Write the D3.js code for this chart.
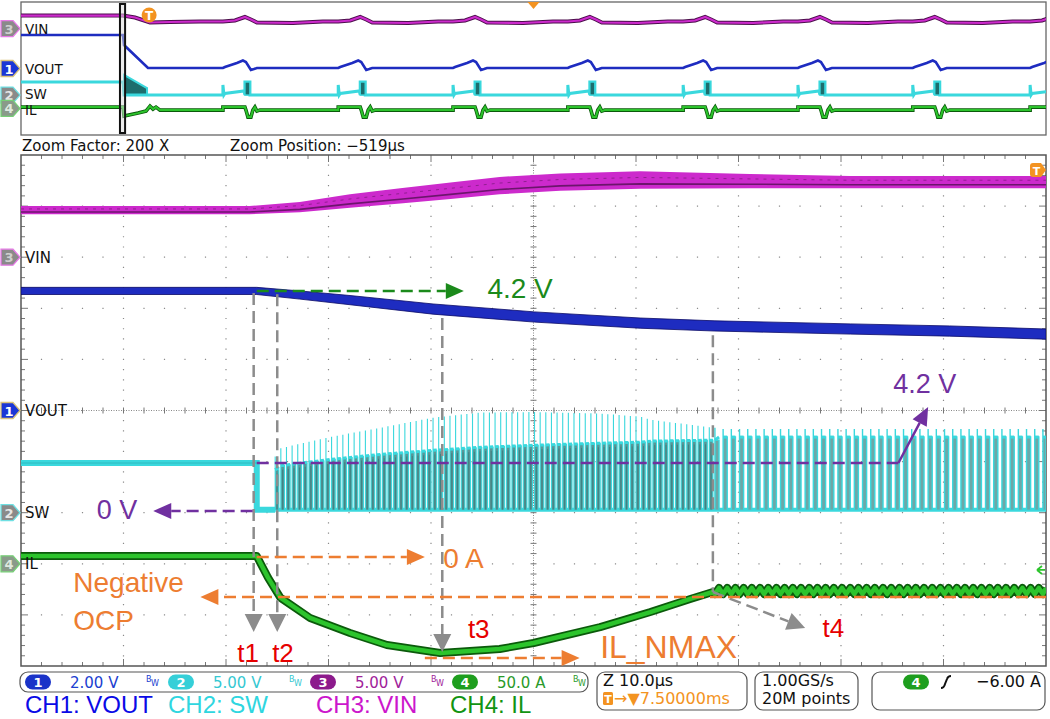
<!DOCTYPE html>
<html><head><meta charset="utf-8">
<script src="https://cdn.jsdelivr.net/npm/d3@7"></script>
<style>body{margin:0;background:#fff}svg{display:block}</style>
</head><body>
<svg id="c" width="1050" height="719"></svg>
<script>
// ================= DATA =================
const channelNames  = ['VIN', 'VOUT', 'SW', 'IL'];
const channelNums   = ['3', '1', '2', '4'];
const channelPerDiv = [5, 2, 5, 50];     // V/div, V/div, V/div, A/div
const channelOffset = [3, 0, -2, -3];    // marker position (div from centre)

// ---- zoom window (10 µs/div), time in µs from left edge ----
const vinT     = [0, 22.3, 27.2, 32.1, 37.0, 41.9, 46.7, 52.6, 60.4, 71.1, 80.9, 100];
const vinV     = [4.6, 4.6, 4.9, 5.5, 6.0, 6.5, 7.0, 7.35, 7.55, 7.45, 7.35, 7.35];
const vinNoise = [0.8, 0.8, 1.0, 1.3, 1.5, 1.6, 1.7, 1.7, 1.7, 1.4, 1.2, 1.2];

const voutT     = [0, 23.0, 27.2, 32.1, 40.2, 50.1, 60.4, 67.7, 80.9, 90.6, 100];
const voutV     = [4.68, 4.68, 4.52, 4.32, 3.97, 3.66, 3.42, 3.31, 3.19, 3.11, 2.99];
const voutNoise = [0.28, 0.28, 0.32, 0.36, 0.40, 0.40, 0.40, 0.40, 0.40, 0.40, 0.40];

const swPreT = [0, 23.0, 23.0, 24.8];
const swPreV = [4.86, 4.86, 0.3, 0.3];
const swEnvT     = [24.8, 25.3, 30.1, 35.0, 40.2, 44.8, 50.1, 56.5, 60.4, 61.4, 67.7, 67.8, 100];
const swPlateau  = [4.2, 4.6, 5.2, 5.7, 6.1, 6.4, 6.6, 6.8, 6.9, 7.0, 7.1, 7.4, 7.4];
const swPeak     = [5.5, 6.3, 7.4, 8.3, 9.3, 9.8, 9.85, 9.7, 9.4, 9.1, 8.3, 8.2, 8.2];
const swLow = 0.3;
const swPhases = [
  {from: 24.8, to: 67.7, period: 0.55, duty: 0.65},
  {from: 67.7, to: 100,  period: 0.80, duty: 0.5}
];

const ilT = [0, 23.0, 24.1, 25.3, 28.2, 32.1, 35.7, 40.9, 46.7, 50.0, 56.5, 61.4, 65.3, 67.5];
const ilA = [7.6, 7.6, -13.5, -33.1, -53.0, -67.7, -79.5, -87.3, -83.4, -77.5, -61.9, -47.2, -34.4, -27.6];
const ilRippleLevel = -26.6, ilRipplePkPk = 6;
const ilTrigLevel = -6.0;

// ---- overview record (2 ms/div), time in ms relative to trigger ----
const ovZoomWin = [-0.569, -0.469];
const ovBurstStarts = [1.44, 3.69, 5.93, 8.17, 10.42, 12.66, 14.90, 17.19];

const ovVinT = [-2.5, -0.51, -0.276, 0.017, 0.407, 0.993];
const ovVinV = [4.9, 4.9, 4.17, 2.29, 2.48, 2.67];
const ovVinBurstDt = [0, 0.234, 0.429, 0.546, 0.663, 1.366, 1.95];
const ovVinBurstV  = [2.67, 3.05, 4.36, 3.42, 2.29, 2.11, 2.67];

const ovVoutT = [-2.5, -0.51, -0.49, -0.022];
const ovVoutV = [5.04, 5.04, 3.53, 0.08];
const ovVoutBurstDt = [0, 0.039, 0.273, 0.39, 0.449, 0.546, 0.605, 0.663];
const ovVoutBurstV  = [0.08, 0.23, 0.83, 1.2, 0.98, -0.23, -0.08, 0.08];

const ovSwT = [-2.5, -0.51, -0.49];
const ovSwV = [4.93, 4.93, 0.04];
const ovSwBurstFillT   = [-0.49, -0.041];
const ovSwBurstFillTop = [7.56, 2.6];
const ovSwBurstDt = [0, 0, 0.02, 0.039, 0.41, 0.429, 0.429, 0.527, 0.527, 0.6];
const ovSwBurstV  = [0.04, 3.8, 0.04, 0.6, 1.54, 0.04, 4.93, 4.93, 0.04, 0.04];
const ovSwPulse = [0.429, 0.527, 4.93];

const ovIlT = [-2.5, -0.51, -0.49, -0.217, -0.061, 0.017, 0.076, 0.134, 0.212];
const ovIlA = [4.9, 4.9, -29, -17.7, -10, 8.6, -2.6, 4.9, -6.4];
const ovIlBurstDt = [0, 0, 0.429, 0.449, 0.488, 0.546, 0.585, 0.624, 0.663, 0.722];
const ovIlBurstA  = [-6.4, 4.9, 4.9, -6.4, -32.7, -32.7, -6.4, 4.9, -10.2, -6.4];

// ---- status bar texts ----
const scaleLabels  = ['2.00 V', '5.00 V', '5.00 V', '50.0 A'];
const legendLabels = ['CH1: VOUT', 'CH2: SW', 'CH3: VIN', 'CH4: IL'];
const zoomTexts = ['Zoom Factor: 200 X', 'Zoom Position: \u2212519\u00b5s'];
const timebaseTexts = ['Z 10.0\u00b5s', '\u2192\u25bc7.50000ms'];
const acqTexts = ['1.00GS/s', '20M points'];
const trigTexts = ['4', '\u22126.00 A'];

// ================= LAYOUT =================
const X0 = 21, X1 = 1046, Y0 = 155, Y1 = 666, OY0 = 2, OY1 = 135;
const FONT = "'DejaVu Sans', sans-serif", AFONT = "'Liberation Sans', Arial, sans-serif";
const COL = {
  vin: '#cc2acc', vinDark: '#4c0f4c', vout: '#1e2cc0', voutDark: '#0a0a66',
  sw: '#3ad8dd', swFill: '#6ea7a7', swDense: '#5a9696', swDark: '#1d6d6d', il: '#2cc42c', ilDark: '#0b5a0b',
  green: '#1b8a1b', purple: '#7030a0', orange: '#ed7d31', red: '#e60000', gray: '#8c8c8c', trig: '#f39321'
};

const svg = d3.select('#c');
const x  = d3.scaleLinear().domain([0, 100]).range([X0, X1]);
const yDiv = d3.scaleLinear().domain([5, -5]).range([Y0, Y1]);
const ox = d3.scaleLinear().domain([-2.5, 17.5]).range([X0, X1]);
const oyDiv = d3.scaleLinear().domain([5, -5]).range([OY0, OY1]);
const yM = (ci, v) => yDiv(channelOffset[ci] + v / channelPerDiv[ci]);
const yO = (ci, v) => oyDiv(channelOffset[ci] + v / channelPerDiv[ci]);
const zip = (a, b) => a.map((t, i) => [t, b[i]]);

const defs = svg.append('defs');
defs.append('clipPath').attr('id', 'cm').append('rect').attr('x', X0).attr('y', Y0).attr('width', X1 - X0).attr('height', Y1 - Y0);
defs.append('clipPath').attr('id', 'co').append('rect').attr('x', X0).attr('y', OY0).attr('width', X1 - X0).attr('height', OY1 - OY0);

// ================= GRID (main) =================
const gGrid = svg.append('g');
let dots = '';
const dx = (X1 - X0) / 10, dy = (Y1 - Y0) / 10;
for (let i = 1; i < 10; i++) {
  if (i === 5) continue;
  const gx = X0 + i * dx;
  for (let k = 1; k < 50; k++) { const yy = Y0 + k * dy / 5; dots += `M${gx - 0.6},${yy - 0.6}h1.2v1.2h-1.2Z`; }
  const gy = Y0 + i * dy;
  for (let k = 1; k < 50; k++) { const xx = X0 + k * dx / 5; dots += `M${xx - 0.6},${gy - 0.6}h1.2v1.2h-1.2Z`; }
}
gGrid.append('path').attr('d', dots).attr('fill', '#8a8a8a');
const cx = X0 + 5 * dx, cy = Y0 + 5 * dy;
gGrid.append('line').attr('x1', X0).attr('x2', X1).attr('y1', cy).attr('y2', cy).attr('stroke', '#888').attr('stroke-width', 1).attr('stroke-dasharray', '1,1.5');
gGrid.append('line').attr('x1', cx).attr('x2', cx).attr('y1', Y0).attr('y2', Y1).attr('stroke', '#888').attr('stroke-width', 1).attr('stroke-dasharray', '1,1.5');
let ticks = '';
for (let k = 1; k < 50; k++) {
  const xx = X0 + k * dx / 5, len = (k % 5 === 0) ? 7 : 4;
  ticks += `M${xx},${Y0}v${len}M${xx},${Y1}v${-len}M${xx},${cy - 3}v6`;
  const yy = Y0 + k * dy / 5;
  ticks += `M${X0},${yy}h${len}M${X1},${yy}h${-len}M${cx - 3},${yy}h6`;
}
gGrid.append('path').attr('d', ticks).attr('stroke', '#777').attr('stroke-width', 1);
gGrid.append('rect').attr('x', X0).attr('y', Y0).attr('width', X1 - X0).attr('height', Y1 - Y0)
  .attr('fill', 'none').attr('stroke', '#555').attr('stroke-width', 1.5);

svg.append('rect').attr('x', X0).attr('y', OY0).attr('width', X1 - X0).attr('height', OY1 - OY0)
  .attr('fill', 'none').attr('stroke', '#666').attr('stroke-width', 1.3);

svg.append('text').attr('x', 22).attr('y', 151).attr('font-family', FONT).attr('font-size', 15).attr('fill', '#111').text(zoomTexts[0]);
svg.append('text').attr('x', 230).attr('y', 151).attr('font-family', FONT).attr('font-size', 15).attr('fill', '#111').text(zoomTexts[1]);

// ================= MAIN TRACES =================
const gM = svg.append('g').attr('clip-path', 'url(#cm)');
const lineM = (ci) => d3.line().x(d => x(d[0])).y(d => yM(ci, d[1]));

const vinPts = vinT.map((t, i) => ({t, v: vinV[i], n: vinNoise[i]}));
gM.append('path').datum(vinPts).attr('fill', COL.vin)
  .attr('d', d3.area().x(d => x(d.t)).y0(d => yM(0, d.v - d.n / 2)).y1(d => yM(0, d.v + d.n / 2)));
gM.append('path').datum(vinPts).attr('fill', 'none').attr('stroke', COL.vinDark).attr('stroke-width', 1.6).attr('opacity', 0.75)
  .attr('d', d3.line().x(d => x(d.t)).y(d => yM(0, d.v - d.n * 0.22)));
gM.append('path').datum(vinPts).attr('fill', 'none').attr('stroke', COL.vinDark).attr('stroke-width', 1).attr('opacity', 0.45)
  .attr('stroke-dasharray', '3,5').attr('d', d3.line().x(d => x(d.t)).y(d => yM(0, d.v + d.n * 0.15)));

const voutPts = voutT.map((t, i) => ({t, v: voutV[i], n: voutNoise[i]}));
gM.append('path').datum(voutPts).attr('fill', COL.vout).attr('stroke', COL.voutDark).attr('stroke-width', 0.8)
  .attr('d', d3.area().x(d => x(d.t)).y0(d => yM(1, d.v - d.n / 2)).y1(d => yM(1, d.v + d.n / 2)));

// SW
gM.append('path').datum(zip(swPreT, swPreV)).attr('fill', 'none').attr('stroke', COL.sw).attr('stroke-width', 6).attr('d', lineM(2));
gM.append('path').datum(zip(swPreT, swPreV).slice(0, 2)).attr('fill', 'none').attr('stroke', '#2aa9ad').attr('stroke-width', 1).attr('opacity', 0.6).attr('d', lineM(2));
const plateauAt = d3.scaleLinear().domain(swEnvT).range(swPlateau).clamp(true);
const peakAt = d3.scaleLinear().domain(swEnvT).range(swPeak).clamp(true);
const swPulses = [];
swPhases.forEach(p => {
  for (let t = p.from; t + 1e-9 < p.to; t += p.period)
    swPulses.push({tr: t, tf: Math.min(t + p.period * p.duty, p.to), dense: p.period < 0.7});
});
gM.append('line').attr('x1', x(swEnvT[0])).attr('x2', x(100)).attr('y1', yM(2, swLow)).attr('y2', yM(2, swLow))
  .attr('stroke', COL.sw).attr('stroke-width', 4);
gM.append('g').selectAll('rect').data(swPulses).join('rect')
  .attr('x', d => x(d.tr)).attr('width', d => x(d.tf) - x(d.tr))
  .attr('y', d => yM(2, plateauAt(d.tr))).attr('height', d => yM(2, swLow) - yM(2, plateauAt(d.tr)))
  .attr('fill', d => d.dense ? COL.swDense : COL.swFill);
gM.append('g').selectAll('path').data(swPulses).join('path')
  .attr('fill', 'none').attr('stroke', COL.sw).attr('stroke-width', d => d.dense ? 1.1 : 1.4)
  .attr('d', d => `M${x(d.tr)},${yM(2, swLow)}V${yM(2, peakAt(d.tr))}M${x(d.tr)},${yM(2, plateauAt(d.tr))}H${x(d.tf)}V${yM(2, swLow)}`);
gM.append('g').selectAll('line').data(swPulses).join('line')
  .attr('x1', d => x(d.tr)).attr('x2', d => x(d.tf))
  .attr('y1', d => yM(2, plateauAt(d.tr))).attr('y2', d => yM(2, plateauAt(d.tf)))
  .attr('stroke', COL.sw).attr('stroke-width', 3);
gM.append('g').selectAll('line').data(swPulses.filter(p => p.dense)).join('line')
  .attr('x1', d => x((d.tr + d.tf) / 2)).attr('x2', d => x((d.tr + d.tf) / 2))
  .attr('y1', d => yM(2, plateauAt(d.tr)) + 4).attr('y2', yM(2, swLow))
  .attr('stroke', COL.swDark).attr('stroke-width', 0.8).attr('opacity', 0.6);

// IL
const ilPts = zip(ilT, ilA);
swPulses.filter(p => p.tr >= ilT[ilT.length - 1]).forEach(p => {
  ilPts.push([p.tr, ilRippleLevel - ilRipplePkPk / 2]);
  ilPts.push([p.tf, ilRippleLevel + ilRipplePkPk / 2]);
});
gM.append('path').datum(ilPts).attr('fill', 'none').attr('stroke', COL.ilDark).attr('stroke-width', 8).attr('stroke-linejoin', 'round').attr('d', lineM(3));
gM.append('path').datum(ilPts).attr('fill', 'none').attr('stroke', COL.il).attr('stroke-width', 4.5).attr('stroke-linejoin', 'round').attr('d', lineM(3));

// ================= OVERVIEW TRACES =================
const gO = svg.append('g').attr('clip-path', 'url(#co)');
const buildOv = (T, V, dts, vals) => {
  const pts = zip(T, V);
  ovBurstStarts.forEach(s => dts.forEach((dt, i) => pts.push([s + dt, vals[i]])));
  return pts;
};
const lineO = (ci) => d3.line().x(d => ox(d[0])).y(d => yO(ci, d[1]));
const ovVin = buildOv(ovVinT, ovVinV, ovVinBurstDt, ovVinBurstV);
gO.append('path').datum(ovVin).attr('fill', 'none').attr('stroke', COL.vinDark).attr('stroke-width', 4).attr('d', lineO(0));
gO.append('path').datum(ovVin).attr('fill', 'none').attr('stroke', COL.vin).attr('stroke-width', 2.2).attr('d', lineO(0));
const ovVout = buildOv(ovVoutT, ovVoutV, ovVoutBurstDt, ovVoutBurstV);
gO.append('path').datum(ovVout).attr('fill', 'none').attr('stroke', COL.vout).attr('stroke-width', 2.6).attr('d', lineO(1));
gO.append('path').datum(zip(ovSwBurstFillT, ovSwBurstFillTop)).attr('fill', COL.swDark).attr('stroke', COL.sw).attr('stroke-width', 2)
  .attr('d', d3.area().x(d => ox(d[0])).y0(yO(2, 0.04)).y1(d => yO(2, d[1])));
const ovSw = buildOv(ovSwT, ovSwV, ovSwBurstDt, ovSwBurstV);
gO.append('path').datum(ovSw).attr('fill', 'none').attr('stroke', COL.sw).attr('stroke-width', 3).attr('d', lineO(2));
gO.append('g').selectAll('rect').data(ovBurstStarts).join('rect')
  .attr('x', s => ox(s + ovSwPulse[0])).attr('width', s => ox(s + ovSwPulse[1]) - ox(s + ovSwPulse[0]))
  .attr('y', yO(2, ovSwPulse[2])).attr('height', yO(2, 0) - yO(2, ovSwPulse[2]))
  .attr('fill', COL.swDark).attr('stroke', COL.sw).attr('stroke-width', 1.5);
const ovIl = buildOv(ovIlT, ovIlA, ovIlBurstDt, ovIlBurstA);
gO.append('path').datum(ovIl).attr('fill', 'none').attr('stroke', COL.ilDark).attr('stroke-width', 3.6).attr('d', lineO(3));
gO.append('path').datum(ovIl).attr('fill', 'none').attr('stroke', COL.il).attr('stroke-width', 2).attr('d', lineO(3));
svg.append('rect').attr('x', ox(ovZoomWin[0])).attr('width', ox(ovZoomWin[1]) - ox(ovZoomWin[0]))
  .attr('y', OY0 + 2).attr('height', OY1 - OY0 - 4).attr('fill', '#d8d8d8').attr('fill-opacity', 0.5)
  .attr('stroke', '#111').attr('stroke-width', 2);
svg.append('path').attr('d', `M${ox(7.5) - 6},${OY0}h12l-6,7Z`).attr('fill', COL.trig);
const tB = svg.append('g').attr('transform', `translate(${ox(0)},${OY0 + 13})`);
tB.append('circle').attr('r', 7.5).attr('fill', COL.trig);
tB.append('text').attr('text-anchor', 'middle').attr('y', 4.5).attr('font-family', FONT).attr('font-size', 12).attr('font-weight', 'bold').attr('fill', '#fff').text('T');
const tR = svg.append('g').attr('transform', `translate(${X1 - 16},${Y0 + 8})`);
tR.append('path').attr('d', 'M0,3Q0,0 3,0H11L16,7L11,14H3Q0,14 0,11Z').attr('fill', COL.trig);
tR.append('text').attr('x', 6.5).attr('y', 11.5).attr('text-anchor', 'middle').attr('font-family', FONT).attr('font-size', 11).attr('font-weight', 'bold').attr('fill', '#fff').text('T');
const ty = yM(3, ilTrigLevel);
svg.append('path').attr('d', `M${X1 - 9},${ty}l5,-4M${X1 - 9},${ty}l5,4M${X1 - 9},${ty}h8`).attr('stroke', COL.il).attr('stroke-width', 1.8).attr('fill', 'none');

// ================= CHANNEL MARKERS =================
const markerFill = ['#8a8a8a', '#1a36d6', '#8a8a8a', '#8a9a8a'];
const markerEdge = ['#e57ae5', '#d9c27a', '#6fe0e3', '#77cf77'];
const markerText = ['#cfcfcf', '#ffffff', '#e6e6e6', '#dfe9df'];
function markers(yFn, fs, dyLab) {
  channelNames.forEach((nm, i) => {
    const yy = yFn(i, 0);
    const g = svg.append('g').attr('transform', `translate(0,${yy})`);
    g.append('path').attr('d', 'M1,-8H13L20,0L13,8H1Z').attr('fill', markerFill[i]).attr('stroke', markerEdge[i]).attr('stroke-width', 1.3);
    g.append('text').attr('x', 9).attr('y', 5).attr('text-anchor', 'middle').attr('font-family', FONT).attr('font-size', 13).attr('font-weight', 'bold').attr('fill', markerText[i]).text(channelNums[i]);
    svg.append('text').attr('x', 25).attr('y', yy + dyLab[i]).attr('font-family', FONT).attr('font-size', fs).attr('fill', '#111').text(nm);
  });
}
markers(yM, 15, [5.5, 5.5, 5.5, 5.5]);
markers(yO, 13.5, [5, 5, 3.5, 7]);

// ================= ANNOTATIONS =================
const gA = svg.append('g');
const P = (ci, t, v) => [x(t), yM(ci, v)];
function arrow(a, b, color, opt = {}) {
  const {dash = true, head = true, len = 18, hw = 8, w = 2.5} = opt;
  const ang = Math.atan2(b[1] - a[1], b[0] - a[0]);
  const bx = b[0] - len * Math.cos(ang), by = b[1] - len * Math.sin(ang);
  gA.append('line').attr('x1', a[0]).attr('y1', a[1]).attr('x2', head ? bx : b[0]).attr('y2', head ? by : b[1])
    .attr('stroke', color).attr('stroke-width', w).attr('stroke-dasharray', dash ? '12,6' : null);
  if (head) {
    const px = -Math.sin(ang) * hw, py = Math.cos(ang) * hw;
    gA.append('path').attr('d', `M${b[0]},${b[1]}L${bx + px},${by + py}L${bx - px},${by - py}Z`).attr('fill', color);
  }
}
function label(p, txt, color, size) {
  gA.append('text').attr('x', p[0]).attr('y', p[1]).attr('font-family', AFONT).attr('font-size', size).attr('fill', color).text(txt);
}
arrow(P(1, 22.7, 4.6), P(3, 22.7, -66.7), COL.gray, {hw: 9});
arrow(P(1, 25.0, 4.55), P(3, 25.0, -66.7), COL.gray, {hw: 9});
arrow(P(1, 41.1, 3.62), P(3, 41.1, -86.3), COL.gray, {hw: 9});
arrow(P(1, 67.5, 2.95), P(3, 67.5, -27.6), COL.gray, {head: false});
arrow(P(3, 67.5, -27.6), P(3, 76.5, -62.8), COL.gray, {hw: 9});
arrow(P(1, 23.0, 4.68), P(1, 43.2, 4.68), COL.green, {hw: 8});
arrow(P(2, 23.0, 4.86), P(2, 85.6, 4.86), COL.purple, {head: false});
arrow(P(2, 85.6, 4.86), P(2, 88.5, 10.34), COL.purple, {dash: false, hw: 8});
arrow(P(2, 22.6, 0.17), P(2, 12.9, 0.17), COL.purple, {hw: 8});
arrow(P(3, 23.0, 6.65), P(3, 39.4, 6.65), COL.orange, {hw: 8});
arrow(P(3, 100, -32.5), P(3, 17.5, -32.5), COL.orange, {hw: 8});
arrow(P(3, 39.4, -92.2), P(3, 54.5, -92.2), COL.orange, {hw: 8});
label(P(1, 45.5, 4.40), '4.2 V', COL.green, 28);
label(P(2, 85.1, 11.71), '4.2 V', COL.purple, 27);
label(P(2, 7.4, -0.62), '0 V', COL.purple, 27);
label(P(3, 41.2, -4.1), '0 A', COL.orange, 28);
label(P(3, 5.1, -27.6), 'Negative', COL.orange, 28);
label(P(3, 5.1, -64.8), 'OCP', COL.orange, 28);
label(P(3, 56.5, -92.2), 'IL_NMAX', COL.orange, 32);
label(P(3, 21.1, -96.1), 't1', COL.red, 26);
label(P(3, 24.5, -96.1), 't2', COL.red, 26);
label(P(3, 43.6, -72.6), 't3', COL.red, 26);
label(P(3, 78.2, -71.6), 't4', COL.red, 26);

// ================= STATUS BAR =================
const gS = svg.append('g');
const box = (bx, bw, bh) => gS.append('rect').attr('x', bx).attr('y', 672).attr('width', bw).attr('height', bh).attr('rx', 8)
  .attr('fill', '#fff').attr('stroke', '#555').attr('stroke-width', 1.2);
box(20, 568, 20); box(597, 150, 38); box(755, 103, 38); box(872, 173, 38);
const pillCol = ['#1a33c8', '#35cfd8', '#8c1a8c', '#1e9e1e'];
const txtCol  = ['#2040d0', '#35c8d2', '#a0229a', '#2a9a2a'];
const pillX = [25, 168, 310, 452];
scaleLabels.forEach((s, i) => {
  gS.append('rect').attr('x', pillX[i]).attr('y', 674.5).attr('width', 26).attr('height', 15).attr('rx', 7.5).attr('fill', pillCol[i]);
  gS.append('text').attr('x', pillX[i] + 13).attr('y', 687).attr('text-anchor', 'middle').attr('font-family', FONT).attr('font-size', 13).attr('font-weight', 'bold').attr('fill', '#fff').text(String(i + 1));
  gS.append('text').attr('x', pillX[i] + 45).attr('y', 687.5).attr('font-family', FONT).attr('font-size', 15).attr('fill', txtCol[i]).text(s);
  gS.append('text').attr('x', pillX[i] + 121).attr('y', 682).attr('font-family', FONT).attr('font-size', 8).attr('fill', txtCol[i]).text('B');
  gS.append('text').attr('x', pillX[i] + 126).attr('y', 686).attr('font-family', FONT).attr('font-size', 8).attr('fill', txtCol[i]).text('W');
});
const legX = [25, 168, 316, 450];
const legCol = ['#0a0ae6', '#2fd6df', '#cc16cc', '#129412'];
legendLabels.forEach((s, i) => gS.append('text').attr('x', legX[i]).attr('y', 713).attr('font-family', AFONT).attr('font-size', 24).attr('fill', legCol[i]).text(s));
gS.append('text').attr('x', 603).attr('y', 686).attr('font-family', FONT).attr('font-size', 16).attr('fill', '#111').text(timebaseTexts[0]);
gS.append('rect').attr('x', 603).attr('y', 692).attr('width', 10).attr('height', 13).attr('rx', 1.5).attr('fill', COL.trig);
gS.append('text').attr('x', 608).attr('y', 703).attr('text-anchor', 'middle').attr('font-family', FONT).attr('font-size', 11).attr('font-weight', 'bold').attr('fill', '#fff').text('T');
gS.append('text').attr('x', 614).attr('y', 704).attr('font-family', FONT).attr('font-size', 16).attr('fill', COL.trig).text(timebaseTexts[1]);
gS.append('text').attr('x', 762).attr('y', 686).attr('font-family', FONT).attr('font-size', 16).attr('fill', '#111').text(acqTexts[0]);
gS.append('text').attr('x', 762).attr('y', 704).attr('font-family', FONT).attr('font-size', 16).attr('fill', '#111').text(acqTexts[1]);
gS.append('rect').attr('x', 903).attr('y', 674.5).attr('width', 26).attr('height', 15).attr('rx', 7.5).attr('fill', pillCol[3]);
gS.append('text').attr('x', 916).attr('y', 687).attr('text-anchor', 'middle').attr('font-family', FONT).attr('font-size', 13).attr('font-weight', 'bold').attr('fill', '#fff').text(trigTexts[0]);
gS.append('path').attr('d', 'M941,688Q944,688 945,684L947,679Q948,676 951,676').attr('fill', 'none').attr('stroke', '#111').attr('stroke-width', 2);
gS.append('text').attr('x', 976).attr('y', 687).attr('font-family', FONT).attr('font-size', 16).attr('fill', '#111').text(trigTexts[1]);
</script>
</body></html>
